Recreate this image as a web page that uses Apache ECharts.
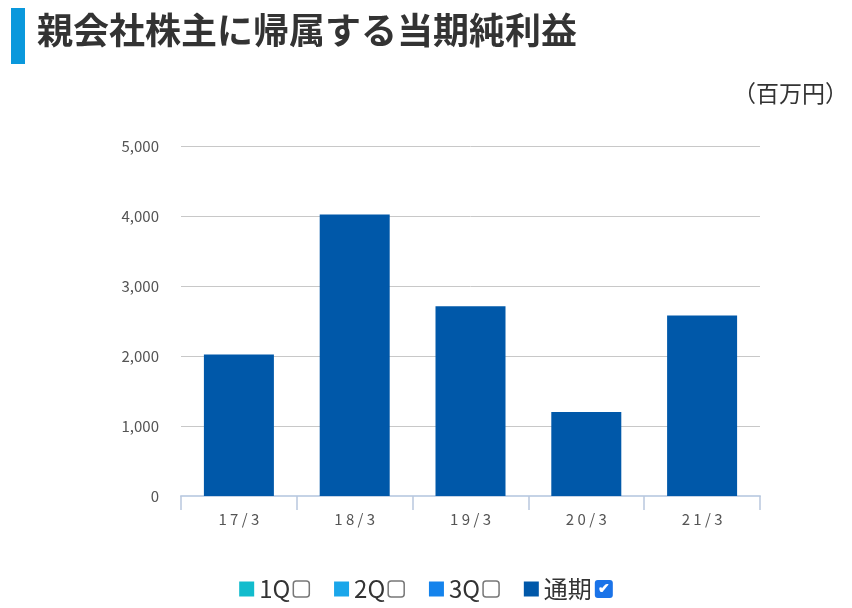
<!DOCTYPE html>
<html lang="ja">
<head>
<meta charset="UTF-8">
<title>親会社株主に帰属する当期純利益</title>
<script src="https://cdn.jsdelivr.net/npm/echarts@6/dist/echarts.min.js"></script>
<style>
  body { margin: 0; background: #fff; }
  #main { width: 852px; height: 608px; }
</style>
</head>
<body>
<div id="main"></div>
<script>
  // データ
  var categories = ['17/3', '18/3', '19/3', '20/3', '21/3'];
  var seriesNames = ['1Q', '2Q', '3Q', '通期'];
  var q1 = [];
  var q2 = [];
  var q3 = [];
  var annual = [2020, 4020, 2710, 1200, 2580];
  var colors = ['#12bccd', '#1aa6ea', '#1483ec', '#0058a9'];

  var font = '"Noto Sans CJK JP", "Noto Sans", sans-serif';
  var chart = echarts.init(document.getElementById('main'));

  function makeSeries(name, data, i) {
    return { name: name, type: 'bar', data: data, barWidth: 70, barGap: '0%',
      itemStyle: { color: colors[i] } };
  }

  chart.setOption({
    animation: false,
    color: colors,
    graphic: [
      { type: 'rect', left: 11, top: 8, shape: { width: 14, height: 56 }, style: { fill: '#0a98dc' } },
      { type: 'text', left: 37, top: 12, style: { text: '親会社株主に帰属する当期純利益', fill: '#333',
        font: 'bold 36px ' + font } },
      { type: 'text', right: 4, top: 82, style: { text: '（百万円）', fill: '#333', font: '23px ' + font } }
    ],
    grid: { left: 181, right: 92, top: 146, bottom: 112 },
    legend: {
      bottom: 2, left: 'center', itemWidth: 15, itemHeight: 15, itemGap: 24, icon: 'rect',
      data: seriesNames,
      formatter: function (n) { return n === '通期' ? '{t|' + n + '}{on|✔}' : '{t|' + n + '}{off|}'; },
      textStyle: {
        rich: {
          t: { fontSize: 24, color: '#333', fontFamily: font, padding: [0, 3, 0, 0] },
          off: { width: 16, height: 16, borderColor: '#777', borderWidth: 1.5, borderRadius: 3 },
          on: { width: 18, height: 18, backgroundColor: '#1a73e8', borderRadius: 3, color: '#fff',
            fontSize: 14, align: 'center', fontWeight: 'bold' }
        }
      }
    },
    xAxis: {
      type: 'category', data: categories,
      axisLine: { lineStyle: { color: '#c5d3e6', width: 2 } },
      axisTick: { show: true, length: 14, lineStyle: { color: '#b9c8de', width: 1.5 } },
      axisLabel: { color: '#555', fontSize: 15, margin: 16, fontFamily: font,
        formatter: function (v) { return v.split('').join(' '); } }
    },
    yAxis: {
      type: 'value', min: 0, max: 5000, interval: 1000,
      axisLabel: { color: '#555', fontSize: 15, margin: 22, fontFamily: font,
        formatter: function (v) { return v.toLocaleString('en-US'); } },
      splitLine: { lineStyle: { color: '#c8c8c8' } }
    },
    series: [
      makeSeries('1Q', q1, 0),
      makeSeries('2Q', q2, 1),
      makeSeries('3Q', q3, 2),
      Object.assign(makeSeries('通期', annual, 3), { barGap: '-100%' })
    ]
  });
</script>
</body>
</html>
